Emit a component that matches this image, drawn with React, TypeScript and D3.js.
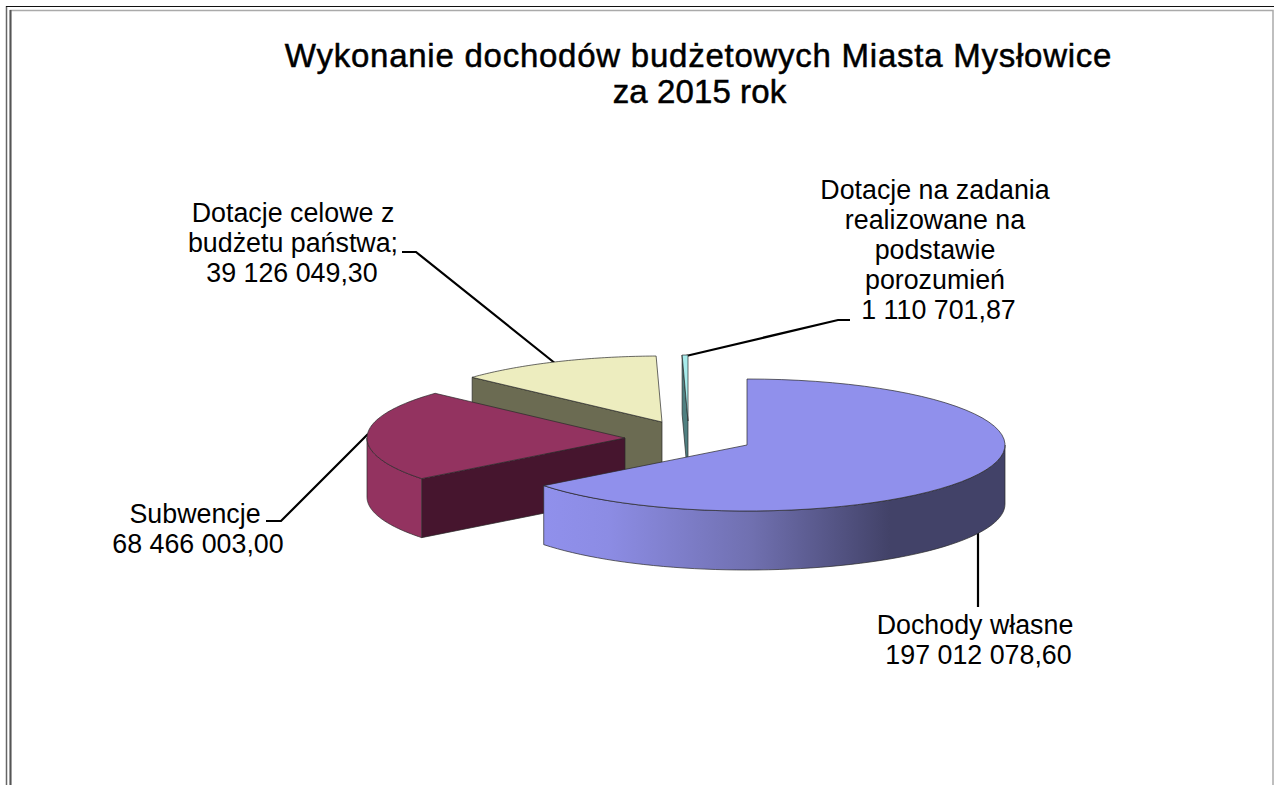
import React, { useEffect, useRef } from 'react';
import * as d3 from 'd3';

const categories = [
  'Dochody własne',
  'Subwencje',
  'Dotacje celowe z budżetu państwa',
  'Dotacje na zadania realizowane na podstawie porozumień',
];
const values = [197012078.6, 68466003.0, 39126049.3, 1110701.87];
const valueLabels = ['197 012 078,60', '68 466 003,00', '39 126 049,30', '1 110 701,87'];

const titleLines = ['Wykonanie dochodów budżetowych Miasta Mysłowice', 'za 2015 rok'];

const topColors = ['#9090ec', '#933360', '#ededbf', '#a8ecec'];
const wallColors = ['#9090ec', '#933360', '#6b6b52', '#4f7f80'];

// exploded slice centres
const centers: [number, number][] = [[747, 445], [625, 438], [662, 422], [688, 421]];
const labelLines = [
  { y: 634, lines: [['Dochody własne', 975], [valueLabels[0], 978.5]] },
  { y: 523, lines: [['Subwencje', 195], [valueLabels[1], 198]] },
  { y: 222, lines: [['Dotacje celowe z', 293], ['budżetu państwa;', 293], [valueLabels[2], 292]] },
  { y: 199, lines: [['Dotacje na zadania', 935], ['realizowane na', 935], ['podstawie', 935], ['porozumień', 935], [valueLabels[3], 938.5]] },
];
const leaders: [number, number][][] = [
  [[978, 532], [978, 607]],
  [[368, 434], [281, 521], [266, 521]],
  [[556, 364], [416, 252], [402, 252]],
  [[686, 356], [838, 320], [850, 320]],
];

const RX = 258;
const RY = 66;
const DEPTH = 59;

export default function App() {
  const svgRef = useRef<SVGSVGElement>(null);

  useEffect(() => {
    const svg = d3.select(svgRef.current);
    svg.selectAll('*').remove();

    const defs = svg.append('defs');
    const grad = defs.append('linearGradient').attr('id', 'blueWall');
    [[0, '#9090ec'], [0.14, '#8c8ce4'], [0.45, '#7070b0'], [0.75, '#424268'], [1, '#424268']].forEach(([o, c]) => {
      grad.append('stop').attr('offset', o as number).attr('stop-color', c as string);
    });

    // outer frame of the page
    const frame = svg.append('g').attr('fill', 'none');
    frame.append('line').attr('x1', 6.5).attr('x2', 6.5).attr('y1', 6).attr('y2', 785).attr('stroke', '#666').attr('stroke-width', 1.5);
    frame.append('path').attr('d', 'M10.5 785V10.5H1273V785').attr('stroke', '#aaa').attr('stroke-width', 1.5);
    frame.append('line').attr('x1', 10.5).attr('x2', 10.5).attr('y1', 10).attr('y2', 785).attr('stroke', '#555').attr('stroke-width', 2);
    frame.append('line').attr('x1', 6).attr('x2', 1274).attr('y1', 6.5).attr('y2', 6.5).attr('stroke', '#111').attr('stroke-width', 1.2);

    const pie = d3.pie<number>().sort(null).value(d => d).startAngle(0).endAngle(2 * Math.PI);
    const slices = pie(values);

    const pt = (i: number, a: number, drop = 0): [number, number] => [
      centers[i][0] + RX * Math.sin(a),
      centers[i][1] - RY * Math.cos(a) + drop,
    ];
    const rim = (i: number, a0: number, a1: number, drop = 0) =>
      d3.range(0, 61).map(k => pt(i, a0 + ((a1 - a0) * k) / 60, drop));
    const line = d3.line();

    const drawSlice = (i: number) => {
      const s = slices[i];
      const g = svg.append('g').attr('stroke', '#2a2a2a').attr('stroke-width', 0.7).attr('stroke-linejoin', 'round');
      const [cx, cy] = centers[i];

      // radial wall on the starting edge, only when it faces the viewer
      if (i === 1 || i === 2 || i === 3) {
        const start = pt(i, s.startAngle);
        g.append('path')
          .attr('d', line([start, [cx, cy], [cx, cy + DEPTH], [start[0], start[1] + DEPTH]]) + 'Z')
          .attr('fill', wallColors[i] === '#933360' ? '#46152e' : wallColors[i]);
      }
      // curved outer wall, only the front half of the ellipse
      const a0 = Math.max(s.startAngle, Math.PI / 2);
      const a1 = Math.min(s.endAngle, (3 * Math.PI) / 2);
      if (i === 0) {
        const top = rim(i, a0, a1);
        const bottom = rim(i, a1, a0, DEPTH);
        g.append('path').attr('d', line([...top, ...bottom]) + 'Z').attr('fill', 'url(#blueWall)');
      } else if (i === 1) {
        const top = rim(i, s.startAngle, (3 * Math.PI) / 2);
        const bottom = rim(i, (3 * Math.PI) / 2, s.startAngle, DEPTH);
        g.append('path').attr('d', line([...top, ...bottom]) + 'Z').attr('fill', wallColors[i]);
      }
      // top face
      g.append('path')
        .attr('d', line([[cx, cy], ...rim(i, s.startAngle, s.endAngle)]) + 'Z')
        .attr('fill', topColors[i]);
    };

    // leader lines sit behind the pie
    svg.append('g')
      .selectAll('path')
      .data(leaders)
      .join('path')
      .attr('d', d => line(d))
      .attr('fill', 'none')
      .attr('stroke', '#000')
      .attr('stroke-width', 2.2);

    [2, 3, 1, 0].forEach(drawSlice);

    const font = 'Liberation Sans, Arial, sans-serif';
    const title = svg.append('g').attr('font-family', font).attr('font-size', 33).attr('text-anchor', 'middle')
      .attr('fill', '#000').attr('stroke', '#000').attr('stroke-width', 0.5);
    titleLines.forEach((t, i) => {
      title.append('text')
        .attr('x', i === 0 ? 698.5 : 699.5)
        .attr('y', 67 + i * 35.5)
        .attr('letter-spacing', i === 0 ? 0.75 : 0.1)
        .text(t);
    });

    const labels = svg.append('g').attr('font-family', font).attr('font-size', 26.8).attr('text-anchor', 'middle').attr('fill', '#000');
    labelLines.forEach(l => {
      l.lines.forEach(([t, x], i) => {
        labels.append('text').attr('x', x as number).attr('y', l.y + i * 30).text(t as string);
      });
    });
  }, []);

  return (
    <svg
      ref={svgRef}
      width={1274}
      height={785}
      role="img"
      aria-label={categories.join(', ')}
      style={{ position: 'absolute', left: 0, top: 0, background: '#fff' }}
    />
  );
}
